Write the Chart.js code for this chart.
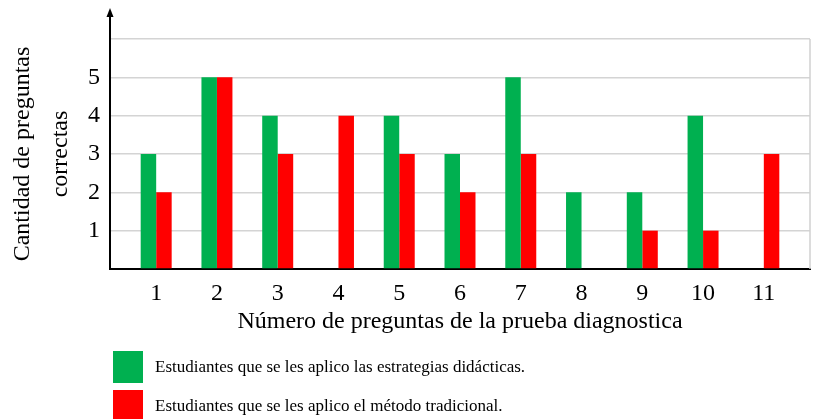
<!DOCTYPE html>
<html>
<head>
<meta charset="utf-8">
<script src="https://cdn.jsdelivr.net/npm/chart.js@4.4.1/dist/chart.umd.min.js"></script>
<style>
  body { margin: 0; background: #fff; }
  #wrap { position: relative; width: 813px; height: 419px; }
  #legend { position: absolute; left: 113px; top: 351px; font-family: "Liberation Serif", "Times New Roman", serif; font-size: 17px; color: #000; }
  .item { display: flex; align-items: center; height: 32px; margin-bottom: 7px; }
  .box { width: 30px; height: 32px; margin-right: 12px; }
</style>
</head>
<body>
<div id="wrap">
  <canvas id="chart"></canvas>
  <div id="legend"></div>
</div>
<script>
const questions = [1, 2, 3, 4, 5, 6, 7, 8, 9, 10, 11];
const strategyScores = [3, 5, 4, 0, 4, 3, 5, 2, 2, 4, 0];
const traditionalScores = [2, 5, 3, 4, 3, 2, 3, 0, 1, 1, 3];
const seriesLabels = [
  "Estudiantes que se les aplico las estrategias didácticas.",
  "Estudiantes que se les aplico el método tradicional.",
];
const seriesColors = ["#00B050", "#FF0000"];

const serif = '"Liberation Serif", "Times New Roman", serif';

// y axis arrow and the light right border of the plot
const axisExtras = {
  id: "axisExtras",
  afterDraw(chart) {
    const { ctx, chartArea } = chart;
    ctx.save();
    ctx.strokeStyle = "#d0d0d0";
    ctx.lineWidth = 1.5;
    ctx.beginPath();
    ctx.moveTo(chartArea.right, chartArea.top);
    ctx.lineTo(chartArea.right, chartArea.bottom);
    ctx.stroke();

    const x = chartArea.left;
    ctx.strokeStyle = "#000";
    ctx.lineWidth = 2;
    ctx.beginPath();
    ctx.moveTo(x, chartArea.top);
    ctx.lineTo(x, 14);
    ctx.stroke();
    ctx.fillStyle = "#000";
    ctx.beginPath();
    ctx.moveTo(x, 8);
    ctx.lineTo(x - 3.5, 17);
    ctx.lineTo(x + 3.5, 17);
    ctx.closePath();
    ctx.fill();
    ctx.restore();
  },
};

const ctx = document.getElementById("chart").getContext("2d");
const chart = new Chart(ctx, {
  type: "bar",
  data: {
    datasets: [
      {
        label: seriesLabels[0],
        data: questions.map((q, i) => ({ x: q, y: strategyScores[i] })),
        backgroundColor: seriesColors[0],
      },
      {
        label: seriesLabels[1],
        data: questions.map((q, i) => ({ x: q, y: traditionalScores[i] })),
        backgroundColor: seriesColors[1],
      },
    ],
  },
  options: {
    responsive: true,
    maintainAspectRatio: false,
    animation: false,
    categoryPercentage: 0.51,
    barPercentage: 1,
    layout: { padding: { top: 39, right: 3, bottom: 80, left: 0 } },
    plugins: {
      legend: { display: false },
      tooltip: { enabled: false },
    },
    scales: {
      x: {
        type: "linear",
        offset: false,
        min: 0.24,
        max: 11.76,
        afterBuildTicks: (scale) => {
          scale.ticks = questions.map((v) => ({ value: v }));
        },
        afterFit: (scale) => {
          scale.height = 70;
        },
        grid: { display: false },
        border: { color: "#000", width: 2 },
        ticks: {
          color: "#000",
          padding: 2,
          font: { family: serif, size: 24 },
          autoSkip: false,
          maxRotation: 0,
        },
        title: {
          display: true,
          text: "Número de preguntas de la prueba diagnostica",
          color: "#000",
          font: { family: serif, size: 24 },
          padding: { top: 0, bottom: 3 },
        },
      },
      y: {
        min: 0,
        max: 6,
        afterFit: (scale) => {
          scale.width = 110;
        },
        grid: { color: "#d4d4d4", lineWidth: 1.5, drawTicks: false },
        border: { color: "#000", width: 2 },
        ticks: {
          stepSize: 1,
          color: "#000",
          padding: 10,
          font: { family: serif, size: 24 },
          callback: (v) => (v >= 1 && v <= 5 ? v : ""),
        },
        title: {
          display: true,
          text: ["Cantidad de preguntas", "correctas"],
          color: "#000",
          font: { family: serif, size: 24, lineHeight: 1.58 },
          padding: { top: 4, bottom: 0 },
        },
      },
    },
  },
  plugins: [axisExtras],
});

const legend = document.getElementById("legend");
chart.data.datasets.forEach((ds) => {
  const item = document.createElement("div");
  item.className = "item";
  const box = document.createElement("div");
  box.className = "box";
  box.style.background = ds.backgroundColor;
  const label = document.createElement("span");
  label.textContent = ds.label;
  item.appendChild(box);
  item.appendChild(label);
  legend.appendChild(item);
});
</script>
</body>
</html>
